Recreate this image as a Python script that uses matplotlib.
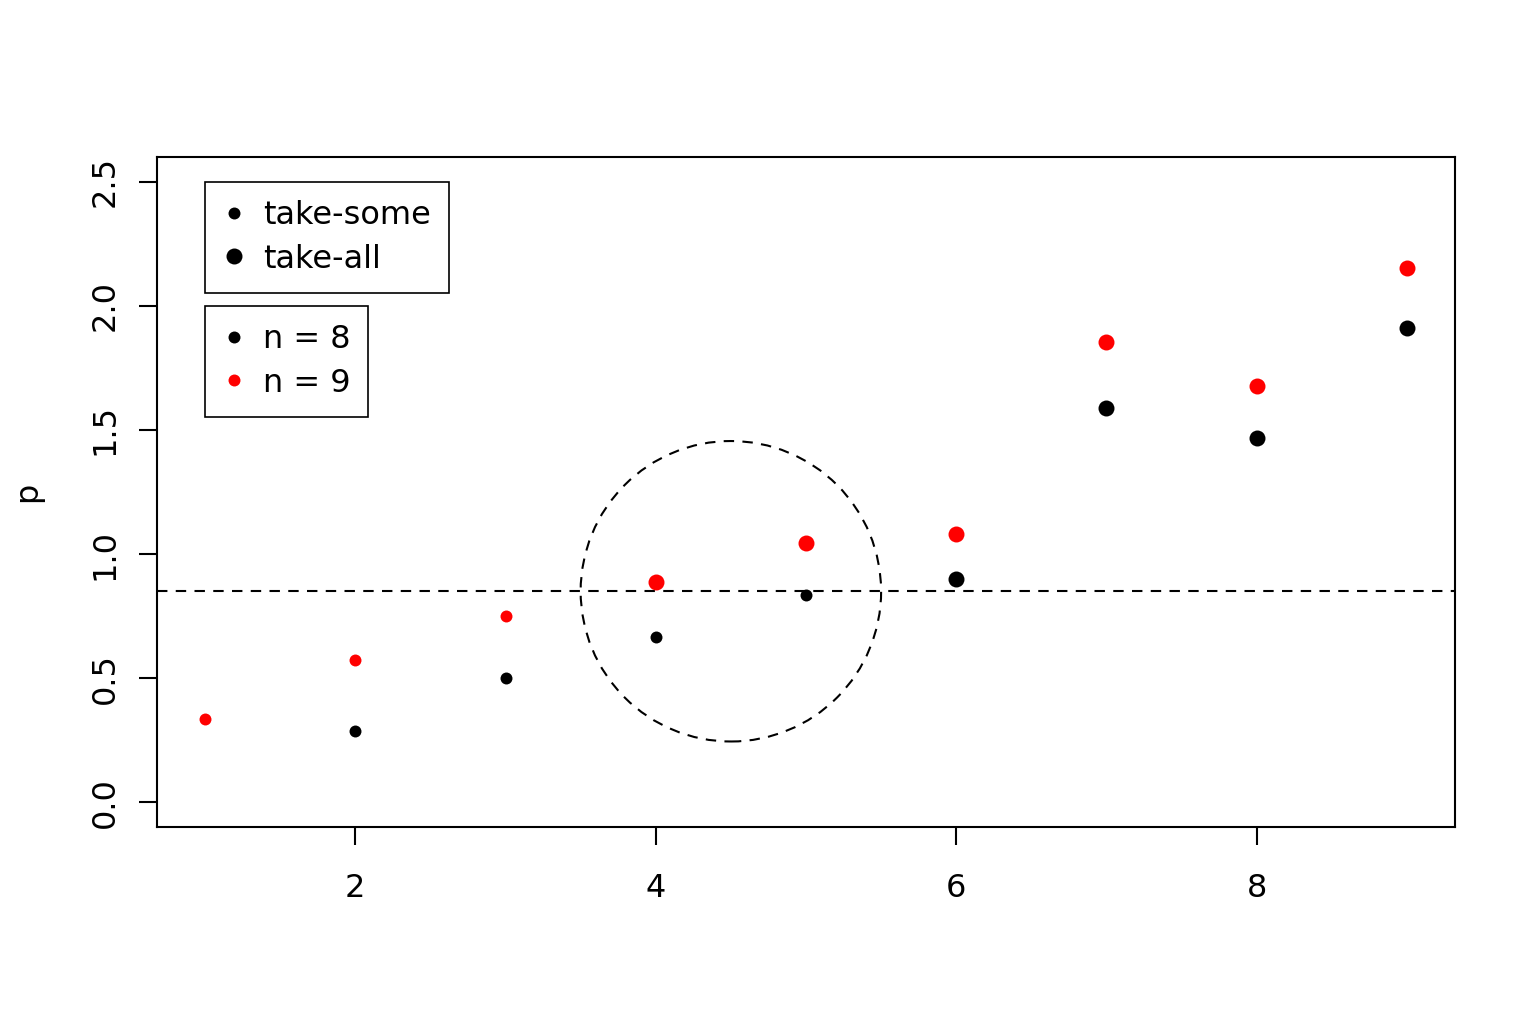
import matplotlib
matplotlib.use("Agg")
import matplotlib.pyplot as plt
from matplotlib.patches import Ellipse
from matplotlib.lines import Line2D

plt.rcParams['font.family'] = ['DejaVu Sans']

# data
x8 = [2, 3, 4, 5, 6, 7, 8, 9]
p8 = [0.286, 0.500, 0.665, 0.835, 0.899, 1.589, 1.468, 1.911]
kind8 = ['some', 'some', 'some', 'some', 'all', 'all', 'all', 'all']
x9 = [1, 2, 3, 4, 5, 6, 7, 8, 9]
p9 = [0.334, 0.572, 0.750, 0.887, 1.044, 1.081, 1.855, 1.677, 2.153]
kind9 = ['some', 'some', 'some', 'all', 'all', 'all', 'all', 'all', 'all']
threshold = 0.85
circle_center = (4.5, 0.85)
circle_radius_x = 1.0
xticks = [2, 4, 6, 8]
yticks = [0.0, 0.5, 1.0, 1.5, 2.0, 2.5]

W, H, DPI = 15.36, 10.23, 100
fig = plt.figure(figsize=(W, H), dpi=DPI)
L, B, AW, AH = 157/1536, (1023-827)/1023, 1298/1536, 670/1023
ax = fig.add_axes([L, B, AW, AH])

xlim = (0.68, 9.32)
ylim = (-0.1, 2.6)
ax.set_xlim(*xlim)
ax.set_ylim(*ylim)

FS = 23
ms = {'some': 8.6, 'all': 11.5}
for xs, ps, ks, col in [(x8, p8, kind8, 'black'), (x9, p9, kind9, 'red')]:
    for xv, pv, kv in zip(xs, ps, ks):
        ax.plot([xv], [pv], 'o', color=col, markersize=ms[kv], markeredgewidth=0, zorder=3)

ax.axhline(threshold, color='black', lw=1.5, ls=(0, (5, 4)))

# circle round in pixel space
px_per_x = AW * W * DPI / (xlim[1] - xlim[0])
px_per_y = AH * H * DPI / (ylim[1] - ylim[0])
ry = circle_radius_x * px_per_x / px_per_y
ax.add_patch(Ellipse(circle_center, 2 * circle_radius_x, 2 * ry, fill=False,
                     edgecolor='black', lw=1.5, ls=(0, (5, 4))))

ax.set_xticks(xticks)
ax.set_xticklabels([str(t) for t in xticks])
ax.set_yticks(yticks)
ax.set_yticklabels([f"{t:.1f}" for t in yticks], rotation=90, va='center')
ax.tick_params(axis='both', labelsize=FS, length=13, width=1.5, direction='out')
ax.tick_params(axis='x', pad=20)
ax.tick_params(axis='y', pad=13)
for s in ax.spines.values():
    s.set_linewidth(1.5)
ax.set_ylabel('p', fontsize=FS, labelpad=34)

common = dict(loc='upper left', fontsize=FS, frameon=True,
              fancybox=False, edgecolor='black', framealpha=1,
              borderaxespad=0, handletextpad=0.56, labelspacing=0.4,
              borderpad=0.56, handlelength=0.69)
h1 = [Line2D([], [], marker='o', ls='', color='black', markersize=ms['some'], markeredgewidth=0),
      Line2D([], [], marker='o', ls='', color='black', markersize=ms['all'], markeredgewidth=0)]
leg1 = ax.legend(h1, ['take-some', 'take-all'], bbox_to_anchor=(0.037, 0.9627), **common)
leg1.get_frame().set_linewidth(1.2)
ax.add_artist(leg1)
h2 = [Line2D([], [], marker='o', ls='', color='black', markersize=ms['some'], markeredgewidth=0),
      Line2D([], [], marker='o', ls='', color='red', markersize=ms['some'], markeredgewidth=0)]
leg2 = ax.legend(h2, ['n = 8', 'n = 9'], bbox_to_anchor=(0.037, 0.7776), **common)
leg2.get_frame().set_linewidth(1.2)

fig.savefig('out.png', dpi=DPI)
